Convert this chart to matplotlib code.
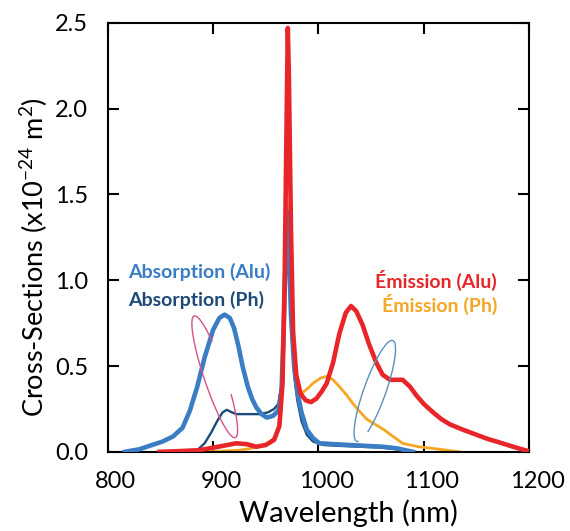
import matplotlib
matplotlib.use('Agg')
import matplotlib.pyplot as plt
from matplotlib.patches import Arc
from matplotlib.transforms import ScaledTranslation

# Absorption (Alu)
abs_alu_wl = [816, 830, 842, 852, 862, 871, 878, 885, 892, 900, 906, 911, 916, 920, 924, 928,
              933, 937, 941, 946, 951, 957, 962, 965, 967, 969, 970, 972, 974, 977, 980, 984,
              989, 995, 1001, 1015, 1030, 1045, 1061, 1075, 1090]
abs_alu_cs = [0.00, 0.015, 0.04, 0.06, 0.09, 0.14, 0.24, 0.38, 0.55, 0.71, 0.78, 0.80, 0.78, 0.72,
              0.62, 0.50, 0.38, 0.31, 0.26, 0.22, 0.20, 0.21, 0.24, 0.35, 0.70, 1.15, 1.40, 1.20,
              0.80, 0.50, 0.35, 0.23, 0.13, 0.08, 0.05, 0.045, 0.04, 0.035, 0.03, 0.02, 0.0]

# Absorption (Ph)
abs_ph_wl = [849, 870, 885, 892, 898, 904, 909, 913, 918, 922, 932, 944, 952, 958, 962, 965,
             967, 969, 970, 972, 974, 977, 980, 984, 989, 995, 1005, 1020, 1040, 1060, 1075, 1088]
abs_ph_cs = [0.00, 0.005, 0.01, 0.05, 0.11, 0.18, 0.23, 0.245, 0.23, 0.22, 0.22, 0.22, 0.23,
             0.25, 0.28, 0.40, 0.75, 1.20, 1.40, 1.15, 0.75, 0.45, 0.30, 0.18, 0.10, 0.06,
             0.04, 0.035, 0.03, 0.025, 0.015, 0.0]

# Emission (Alu)
em_alu_wl = [849, 870, 887, 905, 922, 932, 941, 950, 958, 963, 966, 968, 970, 971, 972, 974,
             976, 979, 983, 988, 993, 998, 1003, 1008, 1014, 1020, 1026, 1031, 1036, 1042, 1048,
             1055, 1061, 1068, 1074, 1080, 1087, 1093, 1100, 1109, 1117, 1125, 1137, 1150, 1161,
             1172, 1185, 1199]
em_alu_cs = [0.00, 0.005, 0.01, 0.03, 0.05, 0.045, 0.03, 0.04, 0.07, 0.15, 0.40, 1.00, 2.00,
             2.47, 2.20, 1.30, 0.70, 0.45, 0.34, 0.30, 0.29, 0.31, 0.35, 0.40, 0.52, 0.69, 0.81,
             0.85, 0.82, 0.74, 0.63, 0.52, 0.45, 0.42, 0.42, 0.42, 0.38, 0.33, 0.28, 0.23, 0.19,
             0.16, 0.13, 0.10, 0.075, 0.055, 0.03, 0.005]

# Emission (Ph)
em_ph_wl = [895, 910, 925, 936, 944, 952, 958, 962, 965, 967, 969, 970.5, 972, 974, 977, 980,
            984, 990, 995, 1002, 1008, 1014, 1020, 1027, 1033, 1040, 1046, 1054, 1062, 1071,
            1080, 1095, 1109, 1122, 1134]
em_ph_cs = [0.00, 0.005, 0.01, 0.02, 0.03, 0.05, 0.08, 0.13, 0.30, 0.70, 1.20, 1.45, 1.20, 0.80,
            0.50, 0.37, 0.34, 0.37, 0.40, 0.43, 0.44, 0.42, 0.38, 0.33, 0.28, 0.23, 0.19, 0.16,
            0.13, 0.09, 0.05, 0.03, 0.02, 0.01, 0.0]

y_ticks = [0.0, 0.5, 1.0, 1.5, 2.0, 2.5]
x_ticks = [800, 900, 1000, 1100, 1200]

c_blue = '#3a7dc4'
c_navy = '#1d4a78'
c_red = '#e8262a'
c_orange = '#f5a623'

plt.rcParams['font.family'] = ['Lato', 'DejaVu Sans']
plt.rcParams['mathtext.fontset'] = 'custom'
plt.rcParams['mathtext.rm'] = 'Lato'
plt.rcParams['mathtext.default'] = 'regular'

fig = plt.figure(figsize=(5.70, 5.31), dpi=100)
ax = fig.add_axes([0.189, 0.149, 0.739, 0.808])

ax.plot(em_ph_wl, em_ph_cs, color=c_orange, lw=2.0, zorder=2)
ax.plot(abs_ph_wl, abs_ph_cs, color=c_navy, lw=1.7, zorder=3)
ax.plot(abs_alu_wl, abs_alu_cs, color=c_blue, lw=3.3, zorder=4)
ax.plot(em_alu_wl, em_alu_cs, color=c_red, lw=3.3, zorder=5)

# hand-drawn style loops marking the bands
ax.add_patch(Arc((0.254, 0.175), 0.30, 0.05, angle=109, theta1=-15, theta2=205,
                 transform=ax.transAxes, color='#d94f8c', lw=1.0, zorder=6))
ax.add_patch(Arc((0.634, 0.142), 0.25, 0.052, angle=70, theta1=-170, theta2=182,
                 transform=ax.transAxes, color='#5b8fc0', lw=1.0, zorder=6))

labels = [('Absorption (Alu)', c_blue, 128, 272),
          ('Absorption (Ph)', c_navy, 128, 300),
          ('Émission (Alu)', c_red, 375, 281),
          ('Émission (Ph)', c_orange, 382, 305)]
for txt, col, px, py in labels:
    ax.text((px - 108) / 421, (452 - py) / 429, txt, color=col, fontsize=14,
            fontweight='bold', va='center', ha='left', transform=ax.transAxes)

ax.set_xlim(800, 1200)
ax.set_ylim(0, 2.5)
ax.set_xticks(x_ticks)
ax.set_yticks(y_ticks)
ax.set_yticklabels([f'{v:.1f}' for v in y_ticks])
ax.tick_params(direction='in', length=8, width=1.5, labelsize=17, top=True, right=True,
               colors='black')
ax.tick_params(axis='x', pad=14)
ax.tick_params(axis='y', pad=14)
# tick labels sit a little right of their ticks in the original
shift = ScaledTranslation(8 / 100, 0, fig.dpi_scale_trans)
for lab in ax.get_xticklabels():
    lab.set_transform(lab.get_transform() + shift)
for s in ax.spines.values():
    s.set_linewidth(1.5)

ax.set_xlabel('Wavelength (nm)', fontsize=21, va='center')
ax.xaxis.set_label_coords(0.572, -0.142)
ax.set_ylabel('Cross-Sections (x10$^{-24}$ m$^{2}$)', fontsize=19.5, va='center')
ax.yaxis.set_label_coords(-0.175, 0.455)

plt.savefig('out.png', dpi=100)
plt.close()
